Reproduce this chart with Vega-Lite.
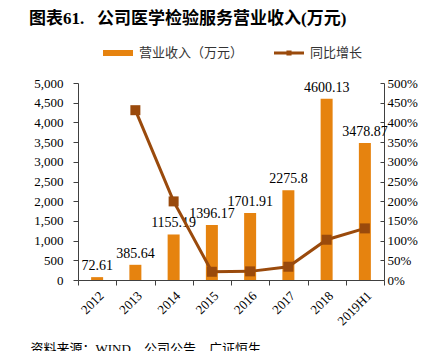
{
  "$schema": "https://vega.github.io/schema/vega-lite/v6.json",
  "width": 306,
  "height": 197,
  "autosize": {"type": "none"},
  "padding": {"left": 78, "top": 83, "right": 51, "bottom": 71},
  "background": "white",
  "title": {
    "text": "图表61.\u00a0\u00a0\u00a0公司医学检验服务营业收入(万元)",
    "anchor": "start",
    "frame": "group",
    "dx": -49,
    "offset": 10,
    "font": "Liberation Serif, Noto Sans CJK SC",
    "fontSize": 17,
    "fontWeight": "bold",
    "color": "#000000"
  },
  "config": {
    "view": {"stroke": null},
    "axis": {
      "labelFont": "Liberation Serif",
      "labelFontSize": 13,
      "labelColor": "#000000",
      "domainColor": "#404040",
      "tickColor": "#404040",
      "grid": false,
      "labelOverlap": false
    }
  },
  "data": {
    "values": [
      {"year": "2012", "rev": 72.61, "label": "72.61", "growth": null},
      {"year": "2013", "rev": 385.64, "label": "385.64", "growth": 4.31},
      {"year": "2014", "rev": 1155.19, "label": "1155.19", "growth": 1.995},
      {"year": "2015", "rev": 1396.17, "label": "1396.17", "growth": 0.209},
      {"year": "2016", "rev": 1701.91, "label": "1701.91", "growth": 0.219},
      {"year": "2017", "rev": 2275.8, "label": "2275.8", "growth": 0.337},
      {"year": "2018", "rev": 4600.13, "label": "4600.13", "growth": 1.022},
      {"year": "2019H1", "rev": 3478.87, "label": "3478.87", "growth": 1.31}
    ]
  },
  "encoding": {
    "x": {
      "field": "year",
      "type": "ordinal",
      "sort": null,
      "scale": {"paddingInner": 0, "paddingOuter": 0},
      "axis": {
        "labelAngle": -45,
        "tickBand": "extent",
        "tickSize": 5,
        "labelPadding": 4,
        "title": "资料来源：WIND，公司公告，广证恒生",
        "titleFont": "Liberation Serif, Noto Sans CJK SC",
        "titleFontSize": 13,
        "titleFontWeight": "normal",
        "titleColor": "#000000",
        "titleAnchor": "start",
        "titleAlign": "left",
        "titleBaseline": "top",
        "titleX": -48,
        "titleY": 62
      }
    }
  },
  "layer": [
    {
      "encoding": {
        "y": {
          "field": "rev",
          "type": "quantitative",
          "scale": {"domain": [0, 5000], "nice": false, "zero": true},
          "axis": {
            "values": [0, 500, 1000, 1500, 2000, 2500, 3000, 3500, 4000, 4500, 5000],
            "format": ",.0f",
            "title": null,
            "tickSize": 5,
            "labelPadding": 10
          }
        }
      },
      "layer": [
        {
          "mark": {"type": "bar", "size": 12},
          "encoding": {
            "color": {
              "datum": "营业收入（万元）",
              "type": "nominal",
              "scale": {"domain": ["营业收入（万元）", "同比增长"], "range": ["#E6830F", "#9A4A0C"]},
              "legend": {
                "title": null,
                "orient": "none",
                "legendX": 25,
                "legendY": -45,
                "direction": "horizontal",
                "labelFont": "Liberation Serif, Noto Sans CJK SC",
                "labelFontSize": 13,
                "labelColor": "#333333",
                "labelOffset": 6,
                "columnPadding": 30,
                "symbolSize": 900,
                "encode": {
                  "symbols": {
                    "update": {
                      "shape": {"signal": "datum.value === '同比增长' ? 'M-1,-0.1H-0.17V-0.17H0.17V-0.1H1V0.1H0.17V0.17H-0.17V0.1H-1Z' : 'M-1,-0.2H1V0.2H-1Z'"},
                      "fill": {"signal": "datum.value === '同比增长' ? '#9A4A0C' : '#E6830F'"},
                      "fillOpacity": {"value": 1},
                      "strokeWidth": {"value": 0},
                      "size": {"value": 900}
                    }
                  }
                }
              }
            }
          }
        },
        {
          "mark": {"type": "text", "baseline": "alphabetic", "dy": -7, "font": "Liberation Serif", "fontSize": 14, "color": "#000000"},
          "encoding": {
            "text": {"field": "label"}
          }
        }
      ]
    },
    {
      "encoding": {
        "y": {
          "field": "growth",
          "type": "quantitative",
          "scale": {"domain": [0, 5], "nice": false},
          "axis": {
            "orient": "right",
            "values": [0, 0.5, 1, 1.5, 2, 2.5, 3, 3.5, 4, 4.5, 5],
            "format": ".0%",
            "title": null,
            "tickSize": -4,
            "labelPadding": 7
          }
        }
      },
      "layer": [
        {
          "mark": {"type": "line", "strokeWidth": 3},
          "encoding": {
            "color": {"datum": "同比增长", "type": "nominal"}
          }
        },
        {
          "mark": {"type": "square", "size": 100, "color": "#9A4A0C", "opacity": 1, "filled": true},
          "encoding": {}
        }
      ]
    }
  ],
  "resolve": {"scale": {"y": "independent"}}
}
